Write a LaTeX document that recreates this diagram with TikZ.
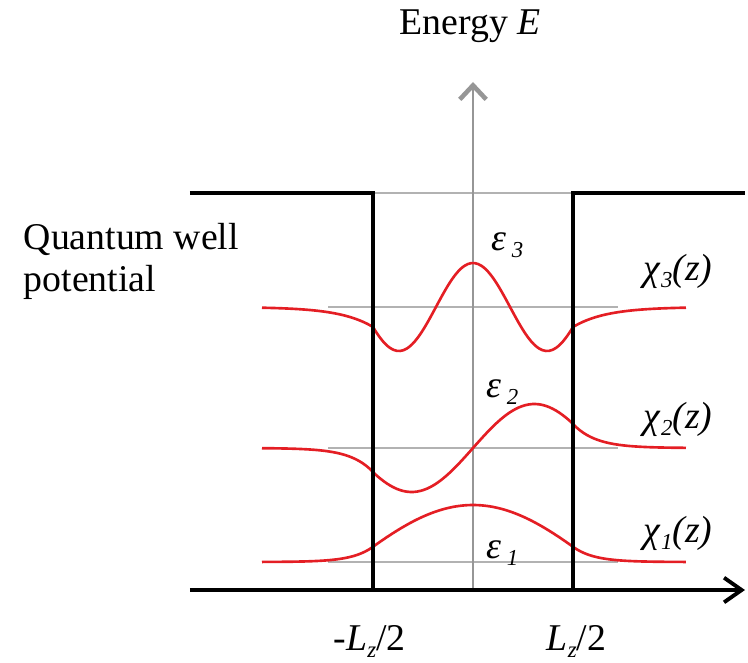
\documentclass[tikz,border=0pt]{standalone}
\usepackage{fontspec}
\setmainfont{Liberation Serif}
\usepackage{tikz}
\usetikzlibrary{arrows.meta}
\definecolor{levelgray}{RGB}{178,178,178}
\definecolor{axisgray}{RGB}{150,150,150}
\definecolor{wavered}{RGB}{228,30,36}
\newcommand{\subfont}{\fontsize{13}{13}\selectfont\itshape}
\newcommand{\epslevel}[1]{\textit{ε}\hspace{3pt}\raisebox{-4.5pt}{\subfont #1}}
\newcommand{\chilevel}[1]{\textit{χ}\raisebox{-4pt}{\subfont #1}\textit{(z)}}

\begin{document}
\begin{tikzpicture}[every node/.style={font=\fontsize{21.5}{23.8}\selectfont,inner sep=0pt},line width=2pt]
\tikzset{wall/.style={draw=black,line width=2pt,line join=miter},
  level/.style={draw=levelgray,line width=1.1pt},
  wave/.style={draw=wavered,line width=1.5pt,samples=60,smooth}}
\useasboundingbox (-9.46,-1.44) rectangle (5.5,11.8);

% ---------- axes and well ----------
\coordinate (O) at (0,0);
\coordinate (Etop) at (0,10.16);
\coordinate (Zleft) at (-5.66,0);
\coordinate (Zright) at (5.44,0);
\coordinate (TL) at (-5.66,7.94);
\coordinate (WTL) at (-2,7.94);
\coordinate (WBL) at (-2,0);
\coordinate (WTR) at (2,7.94);
\coordinate (WBR) at (2,0);
\coordinate (TR) at (5.44,7.94);

% ---------- levels ----------
\coordinate (L1a) at (-2.9,0.56);
\coordinate (L1b) at (2.9,0.56);
\coordinate (L2a) at (-2.9,2.84);
\coordinate (L2b) at (2.9,2.84);
\coordinate (L3a) at (-2.9,5.66);
\coordinate (L3b) at (2.9,5.66);

\draw[level] (L1a)--(L1b);
\draw[level] (L2a)--(L2b);
\draw[level] (L3a)--(L3b);
\draw[level] (WTL)--(WTR);
\draw[draw=axisgray,line width=1.6pt,-{Straight Barb[length=8pt,width=15pt,line width=2.6pt]}] (O)--(Etop);

% ---------- wave functions ----------
\draw[wave] plot[domain=-4.22:-2] (\x,{0.56+0.305*exp(2.4*(\x+2))})
  -- plot[domain=-2:2] (\x,{0.56+1.14*cos(deg(0.65*\x))})
  -- plot[domain=2:4.26] (\x,{0.56+0.305*exp(-2.4*(\x-2))});
\draw[wave] plot[domain=-4.22:-2] (\x,{2.84-0.48*exp(2.2*(\x+2))})
  -- plot[domain=-2:2] (\x,{2.84+0.88*sin(deg(1.28*\x))})
  -- plot[domain=2:4.26] (\x,{2.84+0.48*exp(-2.2*(\x-2))});
\draw[wave] plot[domain=-4.22:-2] (\x,{5.66-0.40*exp(1.5*(\x+2))})
  -- plot[domain=-2:2] (\x,{5.66+0.88*cos(deg(2.12*\x))})
  -- plot[domain=2:4.26] (\x,{5.66-0.40*exp(-1.5*(\x-2))});

% ---------- potential ----------
\draw[wall] (TL)--(WTL)--(WBL);
\draw[wall] (WBR)--(WTR)--(TR);
\draw[wall,-{Straight Barb[length=10pt,width=14pt,line width=2.2pt]}] (Zleft)--(Zright);

% ---------- labels ----------
\node[anchor=base] (energy) at (-0.06,11.1) {Energy \textit{E}};
\node[anchor=north west,align=left] (qw) at (-9.02,7.36) {Quantum well\\potential};
\node[anchor=base west] (eps3) at (0.34,6.8) {\epslevel{3}};
\node[anchor=base west] (eps2) at (0.24,3.86) {\epslevel{2}};
\node[anchor=base west] (eps1) at (0.24,0.64) {\epslevel{1}};
\node[anchor=base west] (chi3) at (3.38,6.2) {\chilevel{3}};
\node[anchor=base west] (chi2) at (3.38,3.24) {\chilevel{2}};
\node[anchor=base west] (chi1) at (3.38,0.96) {\chilevel{1}};
\node[anchor=base west] (lz1) at (-2.82,-1.2) {-\textit{L}\raisebox{-4.5pt}{\subfont z}/2};
\node[anchor=base west] (lz2) at (1.44,-1.2) {\textit{L}\raisebox{-4.5pt}{\subfont z}/2};

\end{tikzpicture}
\end{document}
